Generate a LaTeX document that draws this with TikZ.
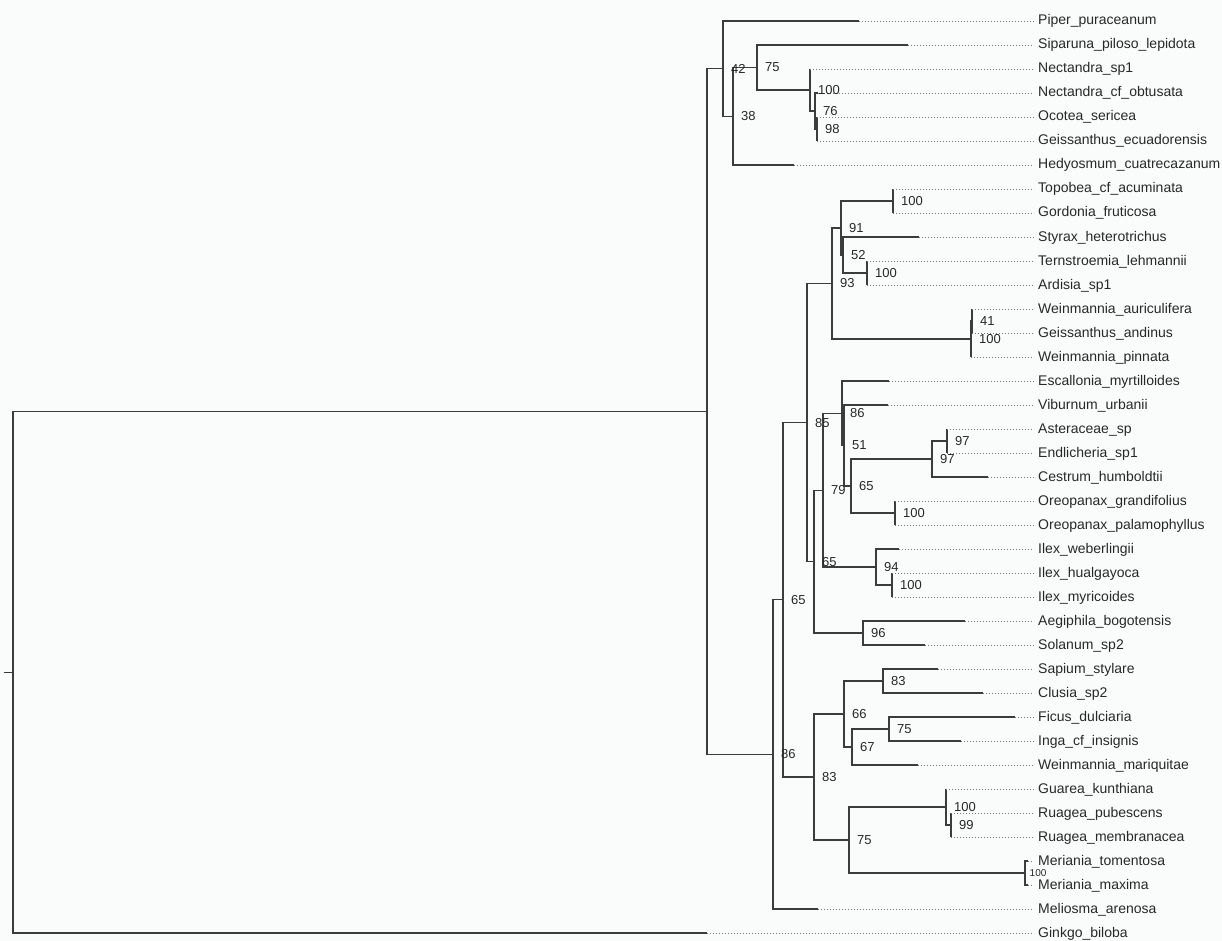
\documentclass[tikz,border=0pt]{standalone}
\usepackage{fontspec}
\setmainfont{Liberation Sans}
\definecolor{lineC}{RGB}{60,60,60}
\definecolor{textC}{RGB}{40,40,40}
\definecolor{dotC}{RGB}{120,120,120}
\definecolor{bgC}{RGB}{250,251,251}
\begin{document}
\begin{tikzpicture}[x=1pt,y=-1pt,
  br/.style={draw=lineC,line width=1.2pt,line join=miter},
  dotl/.style={draw=dotC,line width=0.8pt,dash pattern=on 0.9pt off 2.1pt},
  leaf/.style={anchor=west,inner sep=4pt,text=textC,font=\fontsize{14}{14}\selectfont,text height=10pt,text depth=2pt},
  bs/.style={anchor=west,inner sep=1pt,text=textC,font=\fontsize{13}{13}\selectfont},
  bssmall/.style={anchor=west,inner sep=0.5pt,text=textC,font=\fontsize{10}{10}\selectfont}]
\fill[bgC] (0,0) rectangle (1222,941);
\useasboundingbox (0,0) rectangle (1222,941);
% internal nodes
\foreach \n/\x/\y in {G/817/129, F/815/111, E/810/90, D/757/67.5, C/733/116.25, B/723/68.625,
  AA/893/201, Z/867/273, Y/843/255, X/841/228, AC/972/321, AB/971/339, L/832/283.5,
  T/947/441, S/932/459, U/895/513, R/851/486, Q/844/445.5, P/842/413.25, W/892/585, V/876/567,
  N/823/490.125, O/863/633, M/814/561.56, J/807/422.53, AE/883/681, AG/889/729, AF/852/747,
  AD/844/714, AJ/951/825, AI/946/807, AK/1025/873, AH/849/840, K/814/777, I/783/599.77,
  H/773/754.4, A/707/411.5, Rt/13/672.25}
  \coordinate (\n) at (\x,\y);
\coordinate (Rs) at (4,672.25);
% internal edges
\foreach \p/\c in {B/C, C/D, D/E, E/F, F/G, X/AA, X/Y, Y/Z, L/X, L/AB, AB/AC, J/L, J/M, M/N, M/O,
  N/P, N/V, P/Q, Q/R, R/S, R/U, S/T, V/W, I/J, I/K, K/AD, K/AH, AD/AE, AD/AF, AF/AG, AH/AI,
  AH/AK, AI/AJ, H/I, A/B, A/H, Rt/A}
  \draw[br] (\p) |- (\c);
\draw[br] (Rs) -- (Rt);
% leaves
\foreach \i/\p/\tx/\y/\t in {
  0/B/859/21/Piper\_puraceanum,
  1/D/908/45/Siparuna\_piloso\_lepidota,
  2/E/810/69/Nectandra\_sp1,
  3/F/818/93/Nectandra\_cf\_obtusata,
  4/G/817/117/Ocotea\_sericea,
  5/G/817/141/Geissanthus\_ecuadorensis,
  6/C/794/165/Hedyosmum\_cuatrecazanum,
  7/AA/893/189/Topobea\_cf\_acuminata,
  8/AA/893/213/Gordonia\_fruticosa,
  9/Y/919/237/Styrax\_heterotrichus,
  10/Z/867/261/Ternstroemia\_lehmannii,
  11/Z/867/285/Ardisia\_sp1,
  12/AC/972/309/Weinmannia\_auriculifera,
  13/AC/972/333/Geissanthus\_andinus,
  14/AB/971/357/Weinmannia\_pinnata,
  15/P/889/381/Escallonia\_myrtilloides,
  16/Q/888/405/Viburnum\_urbanii,
  17/T/947/429/Asteraceae\_sp,
  18/T/947/453/Endlicheria\_sp1,
  19/S/988/477/Cestrum\_humboldtii,
  20/U/895/501/Oreopanax\_grandifolius,
  21/U/895/525/Oreopanax\_palamophyllus,
  22/V/899/549/Ilex\_weberlingii,
  23/W/892/573/Ilex\_hualgayoca,
  24/W/892/597/Ilex\_myricoides,
  25/O/965/621/Aegiphila\_bogotensis,
  26/O/925/645/Solanum\_sp2,
  27/AE/938/669/Sapium\_stylare,
  28/AE/983/693/Clusia\_sp2,
  29/AG/1015/717/Ficus\_dulciaria,
  30/AG/961/741/Inga\_cf\_insignis,
  31/AF/918/765/Weinmannia\_mariquitae,
  32/AI/946/789/Guarea\_kunthiana,
  33/AJ/951/813/Ruagea\_pubescens,
  34/AJ/951/837/Ruagea\_membranacea,
  35/AK/1028/861/Meriania\_tomentosa,
  36/AK/1028/885/Meriania\_maxima,
  37/H/818/909/Meliosma\_arenosa,
  38/Rt/707/933/Ginkgo\_biloba}
{
  \coordinate (t\i) at (\tx,\y);
  \node[leaf] (l\i) at (1034,\y) {\t};
  \draw[br] (\p) |- (t\i);
  \draw[dotl] (t\i) -- (l\i.west);
}
% bootstrap values
\foreach \n/\v in {B/42, C/38, D/75, E/100, F/76, G/98, AA/100, X/91, Y/52, Z/100, L/93, AC/41,
  AB/100, J/85, P/86, Q/51, N/79, R/65, S/97, T/97, U/100, V/94, W/100, M/65, O/96, I/65, H/86,
  K/83, AD/66, AE/83, AF/67, AG/75, AH/75, AI/100, AJ/99}
  \node[bs] (bs\n) at ([xshift=7pt]\n) {\v};
\node[bssmall] (bsAK) at ([xshift=4pt]AK) {100};
\end{tikzpicture}
\end{document}
